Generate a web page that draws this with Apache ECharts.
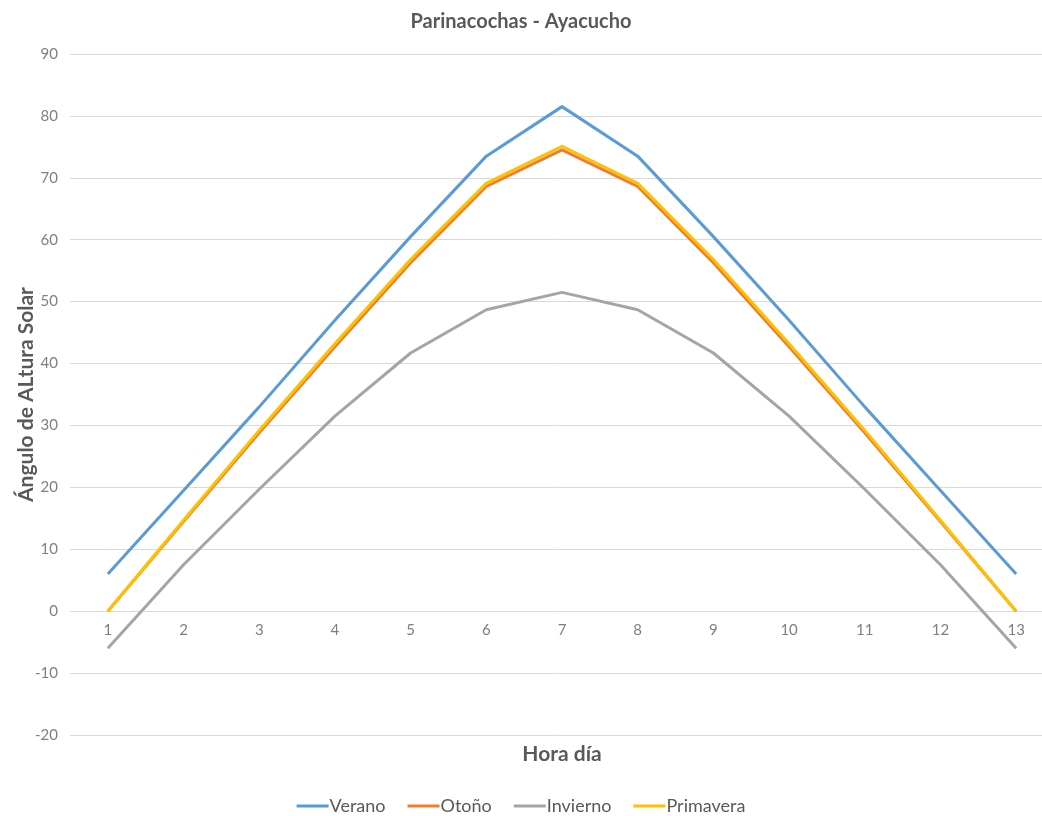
<!DOCTYPE html>
<html>
<head>
<meta charset="utf-8">
<script src="https://cdn.jsdelivr.net/npm/echarts@6/dist/echarts.min.js"></script>
<style>html,body{margin:0;padding:0;background:#fff}#c{width:1042px;height:816px}</style>
</head>
<body>
<div id="c"></div>
<script>
const categories = ['1','2','3','4','5','6','7','8','9','10','11','12','13'];
const verano = [6, 19.5, 33, 47, 60.5, 73.5, 81.5, 73.5, 60.5, 47, 33, 19.5, 6];
const otono = [0, 14.5, 28.8, 42.7, 56.3, 68.6, 74.5, 68.6, 56.3, 42.7, 28.8, 14.5, 0];
const invierno = [-6, 7.5, 19.7, 31.5, 41.7, 48.7, 51.5, 48.7, 41.7, 31.5, 19.7, 7.5, -6];
const primavera = [0, 14.7, 29.2, 43.2, 56.8, 69.1, 75.1, 69.1, 56.8, 43.2, 29.2, 14.7, 0];

const FONT = 'Lato';
const chart = echarts.init(document.getElementById('c'));
function line(name, data, color) {
  return { name, type: 'line', data, symbol: 'none', lineStyle: { width: 3, color }, itemStyle: { color }, animation: false };
}
chart.setOption({
  animation: false,
  textStyle: { fontFamily: FONT },
  title: { text: 'Parinacochas - Ayacucho', left: 'center', top: 7,
    textStyle: { fontFamily: FONT, fontSize: 20, fontWeight: 'bold', color: '#595959' } },
  legend: { top: 792, left: 'center', itemWidth: 32, itemHeight: 3, itemGap: 22,
    icon: 'rect',
    textStyle: { fontFamily: FONT, fontSize: 18, color: '#595959', padding: [0,0,0,-4] },
    data: ['Verano','Otoño','Invierno','Primavera'] },
  grid: { left: 70, top: 54, width: 984, height: 681, containLabel: false, outerBoundsMode: 'none' },
  xAxis: { type: 'category', data: categories, boundaryGap: true, position: 'bottom', offset: -124,
    axisLine: { show: false, onZero: false },
    axisTick: { show: false },
    axisLabel: { color: '#7f7f7f', fontSize: 15, fontFamily: FONT, margin: 12 },
    name: 'Hora día', nameLocation: 'middle', nameGap: 133, nameMoveOverlap: false,
    nameTextStyle: { fontFamily: FONT, fontSize: 21, fontWeight: 'bold', color: '#595959' } },
  yAxis: { type: 'value', min: -20, max: 90, interval: 10,
    axisLine: { show: false }, axisTick: { show: false },
    splitLine: { lineStyle: { color: '#d9d9d9', width: 1 } },
    axisLabel: { color: '#7f7f7f', fontSize: 15, fontFamily: FONT, margin: 12 },
    name: 'Ángulo de ALtura Solar', nameLocation: 'middle', nameGap: 33, nameRotate: 90, nameMoveOverlap: false,
    nameTextStyle: { fontFamily: FONT, fontSize: 21, fontWeight: 'bold', color: '#595959' } },
  series: [
    line('Verano', verano, '#5B9BD5'),
    line('Otoño', otono, '#ED7D31'),
    line('Invierno', invierno, '#A5A5A5'),
    line('Primavera', primavera, '#FFC000')
  ]
});
</script>
</body>
</html>
